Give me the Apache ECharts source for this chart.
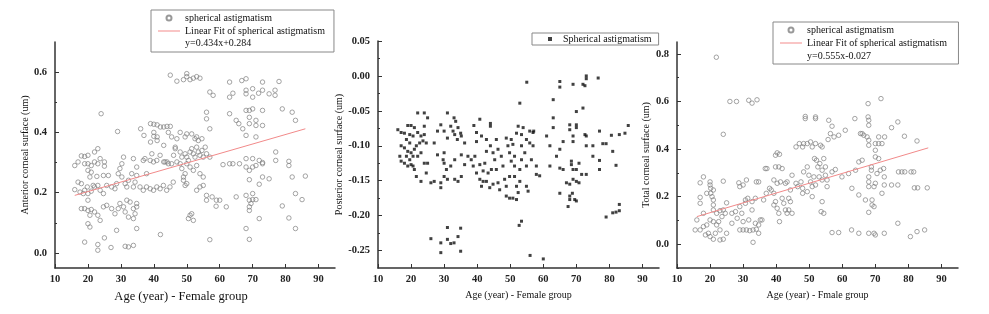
<!DOCTYPE html>
<html><head><meta charset="utf-8">
<script src="https://cdn.jsdelivr.net/npm/echarts@6/dist/echarts.min.js"></script>
<style>html,body{margin:0;padding:0;background:#fff}#c{width:989px;height:314px}</style>
</head><body><div id="c"></div>
<script>
// ---------- DATA ----------
var xTicks = [10,20,30,40,50,60,70,80,90];
var yTicksA = [0.0,0.2,0.4,0.6];
var yTicksP = [-0.25,-0.20,-0.15,-0.10,-0.05,0.00,0.05];
var yTicksT = [0.0,0.2,0.4,0.6,0.8];

var fitAgeA = [16,86], fitValA = [0.191,0.412];
var fitAgeT = [16,86], fitValT = [0.116,0.405];

// Anterior corneal surface (age, um)
var anteriorPts = [
[45,0.59],[47,0.57],[49,0.575],[50,0.585],[50,0.595],[51,0.575],[52,0.58],[53,0.585],[54,0.58],
[57,0.534],[58,0.523],[63,0.567],[63,0.517],[64,0.53],[66.7,0.572],[68,0.578],[68,0.54],[68,0.528],[70,0.545],[70,0.517],[71.8,0.53],[73,0.567],[73,0.54],[75,0.528],[76.8,0.54],[76.8,0.523],[78,0.569],
[56,0.467],[56,0.445],[57,0.412],[63,0.462],[65,0.44],[65.8,0.429],[67,0.412],[68,0.473],[69,0.473],[70,0.478],[69,0.45],[69,0.429],[68,0.39],[71,0.44],[71,0.423],[71,0.385],[73,0.473],[73,0.423],[79,0.478],[82,0.467],[83,0.44],
[24,0.462],[29,0.403],
[36,0.412],[37,0.39],[39,0.368],[39,0.429],[40,0.427],[40,0.4],[40,0.387],[41,0.425],[41,0.385],[42,0.418],[43,0.418],[44,0.42],[45,0.42],[43,0.357],[41,0.373],[44.4,0.4],[45.4,0.385],[46.5,0.351],[47,0.379],[48,0.4],[49.5,0.385],[50,0.395],[51.5,0.395],[52.5,0.379],[53,0.385],[53.5,0.373],[54.6,0.379],
[46,0.324],[46.5,0.346],[48,0.335],[48.5,0.318],[49.5,0.329],[50,0.318],[50.5,0.307],[51,0.335],[51.5,0.346],[52,0.329],[52.5,0.318],[53,0.351],[53.5,0.335],[54,0.324],[54.6,0.34],[55,0.318],[55.6,0.351],[56,0.329],
[50,0.296],[51,0.285],[52,0.274],[53,0.29],[54,0.263],[55,0.252],[49.5,0.263],[49,0.252],[48.5,0.28],[48,0.296],[47,0.302],[45.4,0.296],[44,0.302],[43,0.302],
[50,0.23],[49,0.241],[49.5,0.224],[54,0.219],[55,0.224],[53,0.208],[51,0.125],[50.5,0.114],[52,0.108],[51.5,0.13],
[56,0.191],[56,0.175],[57.7,0.186],[59,0.175],[60,0.175],[58.9,0.155],[62,0.153],[57,0.044],[61,0.293],[63,0.296],[66,0.296],[64,0.296],[57,0.318],
[68,0.313],[68,0.285],[69,0.274],[70,0.313],[70,0.285],[71,0.29],[72,0.307],[73,0.3],[73,0.296],[77,0.307],[77,0.335],[81,0.304],[81,0.29],[82,0.252],[86,0.255],
[73,0.252],[75,0.246],[69,0.243],[72,0.228],[68,0.191],[69,0.175],[70,0.197],[69.5,0.164],[70,0.177],[71,0.177],[69,0.153],[69,0.141],[65,0.186],[72,0.114],[68,0.081],[69,0.045],[79,0.156],[81,0.116],[83,0.197],[83,0.081],[85,0.177],
[16,0.29],[17,0.302],[18,0.322],[19,0.32],[20,0.324],[19,0.296],[20,0.296],[21,0.29],[22,0.335],[23,0.346],[22,0.302],[23,0.296],[23.7,0.313],[25,0.302],[25,0.288],
[16,0.21],[17,0.235],[18,0.23],[19,0.208],[20,0.197],[21,0.205],[22,0.219],[23,0.224],[23.7,0.208],[24.7,0.197],[17.6,0.202],[18.6,0.197],[20,0.175],[19.8,0.219],[20.6,0.252],[21,0.268],[20,0.274],[21.6,0.224],[22.7,0.254],[24.7,0.257],[25.7,0.224],[26.2,0.257],[27.2,0.219],[28.2,0.213],[28.7,0.23],[29.2,0.263],[30.3,0.252],[29.7,0.28],[30.3,0.296],[30.8,0.318],[31.3,0.23],[31.8,0.219],[32.3,0.241],[33.3,0.263],[33.8,0.219],[34.3,0.235],[34.8,0.257],[34.8,0.285],[33.8,0.313],
[35.8,0.219],[36.8,0.208],[37.8,0.219],[38.9,0.213],[39.9,0.208],[40.9,0.219],[41.9,0.213],[42.9,0.224],[43.9,0.208],[44.9,0.219],[45.9,0.235],[37.8,0.263],[36.8,0.307],[38.9,0.307],[39.9,0.302],[40.9,0.307],[41.9,0.324],[43.4,0.302],[44.4,0.296],[39.4,0.329],[37.3,0.313],
[18,0.147],[19,0.147],[20,0.141],[20.6,0.125],[20,0.097],[20.6,0.086],[21,0.144],[22,0.136],[23,0.125],[23.7,0.108],[24.7,0.153],[25.7,0.158],[27.2,0.147],[28.2,0.13],[29.2,0.147],[29.7,0.164],[30.8,0.153],[31.3,0.136],[31.8,0.175],[32.8,0.169],[33.8,0.147],[34.3,0.13],[34.8,0.153],[34.8,0.164],[33.8,0.114],[32.3,0.119],[34.8,0.081],[28.7,0.075],
[19,0.036],[23,0.028],[23,0.009],[25,0.05],[27,0.018],[31.3,0.022],[32.3,0.02],[33.8,0.025],[42,0.061]
];

// Posterior corneal surface (age, um)
var posteriorPts = [
[16,-0.077],[17,-0.081],[16.6,-0.115],[18,-0.082],[19,-0.071],[20,-0.071],[21,-0.074],[22,-0.081],[23,-0.086],[17,-0.1],[18,-0.103],[19,-0.108],[20,-0.11],[20.6,-0.115],[21,-0.105],[21.6,-0.1],[22.6,-0.096],[23.6,-0.093],[24.6,-0.096],
[17,-0.122],[18,-0.125],[19,-0.129],[20,-0.127],[21,-0.134],[21.6,-0.144],[23,-0.151],[24.6,-0.139],[24,-0.125],[25,-0.125],[22,-0.053],[24,-0.053],[25,-0.06],[24,-0.072],[24,-0.084],[19.6,-0.084],[18.6,-0.091],[19.6,-0.096],[20.6,-0.086],[18.6,-0.115],[19.6,-0.12],[20.6,-0.129],[22,-0.115],[23,-0.11],
[26,-0.153],[27,-0.151],[29,-0.153],[29,-0.16],[28,-0.113],[27,-0.096],[28,-0.079],[29,-0.07],[30,-0.079],[31,-0.053],[31,-0.089],[30,-0.11],[30,-0.125],[30.7,-0.134],[30,-0.144],[31,-0.148],[32,-0.072],[32.7,-0.079],[33.2,-0.084],[33.5,-0.065],[33,-0.06],[34,-0.091],[34.2,-0.074],[35,-0.082],[35.2,-0.086],[33.2,-0.12],[33.2,-0.148],[34.2,-0.151],[35.2,-0.144],[35.2,-0.113],[36.2,-0.096],[36.2,-0.127],[32,-0.129],[29.7,-0.12],
[26,-0.233],[29,-0.239],[29,-0.253],[31,-0.217],[31,-0.234],[32,-0.24],[33,-0.239],[34.2,-0.23],[35,-0.218],[35,-0.251],
[37.2,-0.115],[38.2,-0.12],[39,-0.071],[39.8,-0.081],[40.8,-0.062],[41.3,-0.086],[39.8,-0.094],[39.3,-0.115],[38.8,-0.129],[39.8,-0.139],[40.8,-0.148],[41.3,-0.158],[41.8,-0.151],[42.8,-0.091],[42.8,-0.108],[42.3,-0.125],[44,-0.1],[44,-0.072],[44,-0.068],[44.8,-0.11],[45.3,-0.12],[45.8,-0.134],[46.3,-0.153],[46.8,-0.163],[44.3,-0.134],[43.3,-0.139],[42.8,-0.151],[43.8,-0.16],[44.8,-0.155],[41.8,-0.136],[40.8,-0.127],[45.8,-0.091],[46.3,-0.105],
[47.3,-0.115],[47.8,-0.129],[48.3,-0.148],[48.8,-0.172],[49.8,-0.175],[50.3,-0.122],[49.8,-0.11],[49.3,-0.1],[48.8,-0.089],[50.3,-0.091],[50.8,-0.098],[51.3,-0.115],[51.3,-0.129],[51.3,-0.144],[51.9,-0.158],[50.8,-0.175],[51.9,-0.177],[52.4,-0.167],[52.9,-0.151],[52.9,-0.134],[53.4,-0.12],[53.4,-0.1],[53.4,-0.084],[53.9,-0.074],[54.4,-0.11],[54.9,-0.091],[54.9,-0.129],[54.9,-0.158],[55.4,-0.165],[55.9,-0.096],[55.9,-0.079],[56.9,-0.081],[56.4,-0.12],[56.9,-0.1],[57.1,-0.079],[57.9,-0.129],[57.9,-0.141],[58.9,-0.143],[52.4,-0.072],[51.9,-0.082],[52.9,-0.039],[55,-0.009],[52.7,-0.214],[53.4,-0.208],[56,-0.257],[60,-0.262],[49.8,-0.144],[48.8,-0.158],
[61,-0.086],[62,-0.1],[62,-0.129],[63,-0.034],[63,-0.06],[63,-0.074],[64,-0.115],[65,-0.008],[65,-0.016],[65,-0.105],[65,-0.132],[65,-0.168],[66,-0.134],[66,-0.094],[67,-0.153],[67.5,-0.187],[68,-0.155],[68,-0.172],[68,-0.177],[68,-0.07],[68,-0.077],[68.5,-0.122],[68.5,-0.127],[69,-0.012],[69,-0.086],[69,-0.094],[69,-0.134],[69,-0.148],[68.8,-0.168],[69.5,-0.177],[70,-0.051],[70,-0.07],[70,-0.074],[70,-0.134],[70,-0.151],[70,-0.179],[70.8,-0.125],[70.8,-0.153],[72,-0.046],[72,-0.012],[72.6,-0.014],[73,0.0],[73,-0.004],[72.6,-0.084],[73,-0.086],[73,-0.1],[71.6,-0.141],[73,-0.141],[75,-0.1],[75,-0.115],[76.6,-0.003],[77,-0.079],[77,-0.121],[77,-0.134],[78,-0.097],[79,-0.097],[79,-0.202],[80.6,-0.085],[81,-0.108],[81,-0.196],[82,-0.128],[82,-0.195],[83,-0.084],[83,-0.193],[83,-0.184],[84.7,-0.082],[85.7,-0.071]
];

// Total corneal surface (age, um)
var totalPts = [
[21.9,0.786],[26,0.6],[28,0.6],[31.7,0.605],[32.7,0.593],[34.2,0.607],[24,0.462],[24,0.265],[17,0.258],[17,0.197],[18,0.283],[20,0.262],[20,0.249],[20.2,0.235],[20.2,0.214],[20.6,0.2],[21,0.228],[21,0.186],[21,0.165],[21,0.144],[19,0.214],[18,0.13],[17,0.172],[16,0.102],
[15.5,0.06],[17,0.06],[18,0.074],[19,0.081],[20,0.102],[21,0.095],[22,0.081],[23,0.06],[18.6,0.039],[20,0.032],[21,0.021],[19.5,0.046],[21.6,0.046],[22.6,0.095],[23.6,0.116],[24.6,0.13],[25,0.046],[23,0.018],[24,0.021],[22,0.13],[23,0.141],[24,0.144],[25,0.174],
[26.6,0.13],[27.7,0.137],[28.2,0.109],[26.6,0.088],[29,0.06],[30,0.06],[31,0.06],[32,0.057],[33,0.06],[34,0.063],[34.7,0.081],[34.7,0.046],[33,0.008],[33.7,0.088],[31.7,0.102],[30,0.095],[29.6,0.13],[29,0.158],[30.7,0.172],[30.7,0.186],[31.4,0.193],[32.7,0.179],[33.7,0.193],[32.7,0.144],
[28.7,0.258],[29,0.242],[30,0.249],[31,0.27],[34,0.262],[34.7,0.262],[35.2,0.102],[35.7,0.102],[36.2,0.186],[37,0.214],[36.7,0.318],[37.2,0.318],[38,0.235],[38.5,0.228],[39.3,0.27],[39.8,0.325],[39.8,0.374],[40.3,0.384],[41,0.378],[40.8,0.325],[41.8,0.318],[41.3,0.262],[40.3,0.256],[39.3,0.214],[39.8,0.179],[39.3,0.165],[40.3,0.151],[40.8,0.13],[41,0.095],
[41.8,0.193],[42.3,0.172],[42.8,0.144],[43.3,0.13],[43.8,0.193],[43.8,0.144],[44.8,0.13],[44.3,0.228],[44.8,0.29],[43.3,0.262],[42.8,0.256],[44.3,0.179],[46,0.256],
[46,0.409],[47,0.423],[48,0.409],[48.3,0.423],[49.4,0.423],[50.4,0.43],[50.9,0.409],[51.9,0.423],[53.4,0.416],[53.9,0.409],[48.8,0.537],[48.8,0.528],[51.9,0.535],[51.9,0.528],
[46.5,0.242],[47.5,0.262],[48,0.235],[48.3,0.304],[49.4,0.325],[49.9,0.29],[50.4,0.262],[50.9,0.242],[51.4,0.283],[51.6,0.36],[52.2,0.353],[52.6,0.325],[53.2,0.339],[53.9,0.311],[54.4,0.36],[54.9,0.325],[55.4,0.27],[55.4,0.242],[53.9,0.27],[53,0.283],[51.9,0.249],[50.9,0.2],[53.9,0.179],[53.6,0.137],[54.4,0.13],[49.4,0.221],[48,0.214],[54.9,0.29],
[55.7,0.44],[55.9,0.521],[56.9,0.496],[56.4,0.465],[57.5,0.451],[56.9,0.304],[57.9,0.314],[56.9,0.049],[58.9,0.049],[58.9,0.458],[59.9,0.283],[60.9,0.479],[61.9,0.297],[62.9,0.235],[62.8,0.06],[63.8,0.528],[64,0.311],[65,0.346],[65.5,0.465],[65,0.207],[65,0.046],[66,0.465],[66,0.353],[66.5,0.458],[67,0.186],[67.5,0.451],
[67.8,0.591],[67.8,0.535],[68,0.521],[68,0.5],[68,0.437],[68,0.416],[68,0.283],[68,0.262],[68,0.242],[68,0.134],[68,0.046],[68.8,0.325],[68.8,0.311],[69,0.186],[69,0.165],[69.6,0.158],[69.6,0.242],[70,0.256],[70,0.367],[70,0.423],[69.6,0.046],[70,0.039],[70,0.395],[70.5,0.297],[71,0.451],[71,0.423],[71,0.36],[71.5,0.311],[71.7,0.612],[72,0.423],[72,0.214],[72.5,0.318],[72.7,0.283],[72.7,0.249],[72.7,0.046],[72.8,0.451],
[74.9,0.49],[74.9,0.249],[76.8,0.514],[76.8,0.249],[76.8,0.088],[77,0.304],[78,0.304],[78.9,0.304],[78.8,0.454],[80.6,0.032],[80.8,0.304],[81.6,0.304],[81.8,0.237],[82.8,0.237],[82.6,0.434],[82.6,0.053],[84.9,0.06],[85.7,0.237]
];

// ---------- CHART ----------
var FF = 'Liberation Serif';
var chart = echarts.init(document.getElementById('c'));
function minors(a, step){ var r=[]; for (var i=0;i<a.length;i++){ r.push(+(a[i]+step).toFixed(4)); } return r; }
function xAx(gi, name, fs, pad){
  return [{
    type:'value', gridIndex:gi, min:10, max:95,
    name:name, nameLocation:'middle', nameGap:21,
    nameTextStyle:{fontFamily:FF, fontSize:fs, color:'#111', padding:pad},
    axisLine:{show:true, onZero:false, lineStyle:{color:'#333', width:1.5}},
    axisTick:{show:true, inside:true, length:4, customValues:xTicks, lineStyle:{color:'#333'}},
    axisLabel:{customValues:xTicks, fontFamily:FF, fontSize:10.5, fontWeight:'bold', color:'#222', margin:6},
    splitLine:{show:false}
  }];
}
function yAx(gi, name, min, max, ticks, minorT, gap, fmt){
  return [{
    type:'value', gridIndex:gi, min:min, max:max,
    name:name, nameLocation:'middle', nameGap:gap,
    nameTextStyle:{fontFamily:FF, fontSize:10, color:'#111'},
    axisLine:{show:true, onZero:false, lineStyle:{color:'#333', width:1.5}},
    axisTick:{show:true, inside:true, length:4, customValues:ticks, lineStyle:{color:'#333'}},
    axisLabel:{customValues:ticks, fontFamily:FF, fontSize:10.5, fontWeight:'bold', color:'#222', margin:8, formatter:function(v){return v.toFixed(fmt);}},
    splitLine:{show:false}
  },{
    type:'value', gridIndex:gi, min:min, max:max, position:'left',
    axisLine:{show:false, onZero:false}, axisLabel:{show:false}, splitLine:{show:false},
    axisTick:{show:true, inside:true, length:2, customValues:minorT, lineStyle:{color:'#333'}}
  }];
}
var openCircle = {color:'rgba(0,0,0,0)', borderColor:'#808080', borderWidth:0.9};
var legendText = {fontFamily:FF, fontSize:10, color:'#111'};
var lineIcon = 'path://M0,0 L22,0 L22,1 L0,1 Z';

var option = {
  animation:false,
  backgroundColor:'#fff',
  grid:[
    {left:55, top:42, width:280, height:226},
    {left:378, top:41, width:281, height:227},
    {left:677, top:42, width:281, height:226}
  ],
  xAxis: [].concat(xAx(0,'Age (year) - Female group', 12.5, [0,28,0,0]), xAx(1,'Age (year) - Female group', 10, 0), xAx(2,'Age (year) - Fmale group', 10, 0)),
  yAxis: [].concat(
    yAx(0,'Anterior corneal surface (um)', -0.05, 0.7, yTicksA, [0.1,0.3,0.5], 25, 1),
    yAx(1,'Posterior corneal surface (um)', -0.275, 0.05, yTicksP, minors(yTicksP.slice(0,6), 0.025), 34, 2),
    yAx(2,'Total corneal surface (um)', -0.1, 0.85, yTicksT, [-0.1,0.1,0.3,0.5,0.7], 26, 1)
  ),
  legend:[
    {left:151, top:10, orient:'vertical', itemGap:3, itemWidth:22, itemHeight:5, padding:[3,9,16,7],
     borderColor:'#888', borderWidth:1, textStyle:legendText,
     data:[{name:'spherical astigmatism'},{name:'Linear Fit of spherical astigmatism', icon:lineIcon}]},
    {left:532, top:33, orient:'vertical', itemWidth:4, itemHeight:4, padding:[1,7,1,16],
     borderColor:'#888', borderWidth:1, textStyle:{fontFamily:FF, fontSize:10, color:'#111', padding:[0,0,0,6]},
     data:['Spherical astigmatism']},
    {left:773, top:22, orient:'vertical', itemGap:3, itemWidth:22, itemHeight:5, padding:[3,9,16,7],
     borderColor:'#888', borderWidth:1, textStyle:legendText,
     data:[{name:'spherical astigmatism '},{name:'Linear Fit of spherical astigmatism ', icon:lineIcon}]}
  ],
  graphic:[
    {type:'text', left:185, top:38, style:{text:'y=0.434x+0.284', font:'10px "Liberation Serif"', fill:'#111'}},
    {type:'text', left:807, top:51, style:{text:'y=0.555x-0.027', font:'10px "Liberation Serif"', fill:'#111'}}
  ],
  series:[
    {type:'scatter', name:'spherical astigmatism', xAxisIndex:0, yAxisIndex:0, symbol:'circle', symbolSize:4.5, itemStyle:openCircle, data:anteriorPts, z:2},
    {type:'line', name:'Linear Fit of spherical astigmatism', xAxisIndex:0, yAxisIndex:0, symbol:'none', lineStyle:{color:'#f28a8a', width:1}, itemStyle:{color:'#f28a8a'},
     data:fitAgeA.map(function(a,i){return [a, fitValA[i]];}), z:3},
    {type:'scatter', name:'Spherical astigmatism', xAxisIndex:1, yAxisIndex:2, symbol:'rect', symbolSize:3, itemStyle:{color:'#111'}, data:posteriorPts},
    {type:'scatter', name:'spherical astigmatism ', xAxisIndex:2, yAxisIndex:4, symbol:'circle', symbolSize:4.5, itemStyle:openCircle, data:totalPts, z:2},
    {type:'line', name:'Linear Fit of spherical astigmatism ', xAxisIndex:2, yAxisIndex:4, symbol:'none', lineStyle:{color:'#f28a8a', width:1}, itemStyle:{color:'#f28a8a'},
     data:fitAgeT.map(function(a,i){return [a, fitValT[i]];}), z:3}
  ]
};
chart.setOption(option);
</script></body></html>
